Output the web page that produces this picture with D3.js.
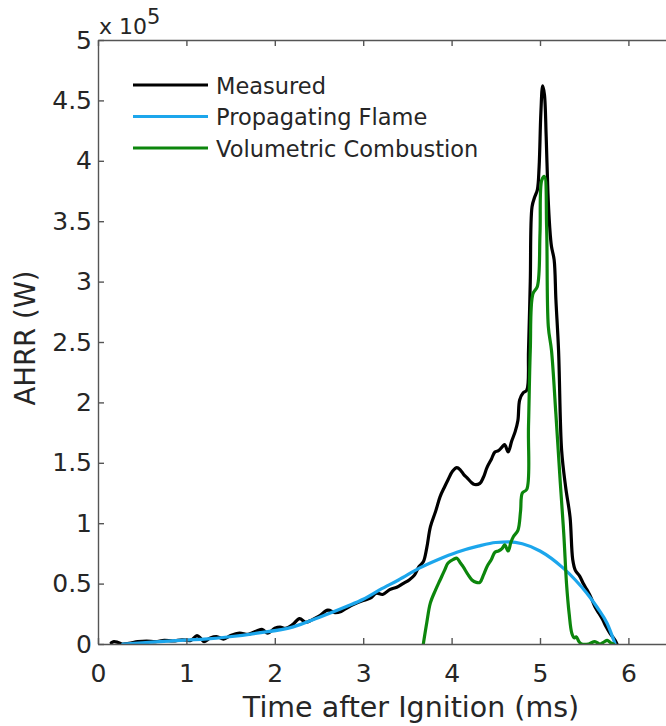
<!DOCTYPE html>
<html>
<head>
<meta charset="utf-8">
<script src="https://cdn.jsdelivr.net/npm/d3@7"></script>
<style>
  html, body { margin: 0; padding: 0; background: #fff; }
  svg { display: block; font-family: "DejaVu Sans", Verdana, sans-serif; }
</style>
</head>
<body>
<svg id="chart" width="666" height="726"></svg>
<script>
// Values in units of 10^5 W, time in ms
const measuredT = [0.15,0.18,0.22,0.27,0.35,0.45,0.55,0.65,0.75,0.85,0.95,1.05,1.12,1.17,1.20,1.27,1.35,1.42,1.50,1.60,1.70,1.80,1.86,1.92,2.00,2.06,2.12,2.20,2.28,2.35,2.42,2.50,2.60,2.68,2.75,2.82,2.90,3.00,3.08,3.15,3.22,3.30,3.38,3.45,3.52,3.58,3.63,3.68,3.72,3.76,3.82,3.87,3.92,3.96,4.01,4.06,4.10,4.14,4.17,4.22,4.26,4.32,4.36,4.40,4.45,4.49,4.53,4.57,4.60,4.64,4.68,4.72,4.75,4.77,4.81,4.85,4.87,4.89,4.91,4.94,4.97,4.99,5.01,5.03,5.05,5.07,5.09,5.11,5.13,5.16,5.18,5.21,5.245,5.29,5.34,5.37,5.40,5.45,5.49,5.53,5.58,5.62,5.67,5.71,5.75,5.79,5.83,5.85,5.87];
const measuredV = [0.01,0.02,0.015,0.0,0.005,0.02,0.025,0.02,0.03,0.025,0.035,0.03,0.07,0.04,0.02,0.05,0.06,0.04,0.07,0.09,0.08,0.11,0.12,0.09,0.13,0.14,0.13,0.16,0.21,0.18,0.20,0.23,0.28,0.26,0.27,0.30,0.33,0.36,0.38,0.42,0.41,0.45,0.47,0.50,0.53,0.57,0.64,0.68,0.80,0.97,1.10,1.22,1.30,1.36,1.43,1.46,1.44,1.40,1.38,1.34,1.32,1.33,1.38,1.46,1.53,1.59,1.60,1.63,1.65,1.59,1.68,1.76,1.85,2.02,2.08,2.10,2.43,3.00,3.62,3.70,3.76,3.95,4.40,4.62,4.55,4.20,3.73,3.45,3.29,3.18,2.85,2.43,1.60,1.30,1.05,0.70,0.61,0.56,0.50,0.45,0.38,0.31,0.25,0.20,0.14,0.09,0.05,0.03,0.0];

const flameT = [0.28,0.50,0.93,1.20,1.49,1.80,2.20,2.50,2.81,3.00,3.19,3.40,3.64,3.85,4.06,4.30,4.50,4.65,4.80,5.00,5.26,5.40,5.53,5.65,5.76,5.85];
const flameV = [0.0,0.01,0.03,0.04,0.06,0.09,0.14,0.22,0.31,0.37,0.45,0.53,0.63,0.70,0.76,0.81,0.84,0.845,0.83,0.77,0.63,0.53,0.42,0.30,0.17,0.0];

const volT = [3.68,3.72,3.76,3.82,3.87,3.92,3.96,4.02,4.06,4.10,4.13,4.18,4.23,4.28,4.32,4.36,4.40,4.45,4.49,4.53,4.57,4.60,4.64,4.67,4.70,4.75,4.78,4.80,4.85,4.87,4.89,4.92,4.97,5.00,5.02,5.05,5.075,5.094,5.13,5.18,5.23,5.27,5.30,5.33,5.36,5.39,5.41,5.44,5.47,5.55,5.62,5.68,5.73,5.76,5.80,5.83];
const volV = [0.0,0.18,0.34,0.45,0.53,0.61,0.67,0.70,0.71,0.67,0.64,0.58,0.53,0.51,0.51,0.57,0.64,0.70,0.76,0.77,0.79,0.82,0.77,0.84,0.89,0.94,1.10,1.25,1.28,1.80,2.43,2.90,2.96,3.40,3.84,3.87,3.45,2.63,2.43,1.90,1.33,0.90,0.50,0.25,0.09,0.05,0.06,0.02,0.0,0.0,0.02,0.0,0.02,0.03,0.01,0.0];

const xTicks = [0,1,2,3,4,5,6];
const yTicks = [0,0.5,1,1.5,2,2.5,3,3.5,4,4.5,5];
const seriesNames = ["Measured","Propagating Flame","Volumetric Combustion"];
const seriesColors = ["#000000","#1ca6ec","#0c860c"];

const svg = d3.select("#chart");
const x = d3.scaleLinear().domain([0,7]).range([98, 98 + 7*88.4]);
const y = d3.scaleLinear().domain([0,5]).range([644, 40]);
const axisColor = "#555";
const textColor = "#262626";

// clip
svg.append("defs").append("clipPath").attr("id","clip")
  .append("rect").attr("x",x(0)).attr("y",y(5)).attr("width",x(7)-x(0)).attr("height",y(0)-y(5));

// lines
const smooth = d3.line().x(d => x(d[0])).y(d => y(d[1])).curve(d3.curveMonotoneX);
const cr = d3.line().x(d => x(d[0])).y(d => y(d[1])).curve(d3.curveCatmullRom.alpha(0.5));
const g = svg.append("g").attr("clip-path","url(#clip)");
const series = [
  {data: d3.zip(measuredT, measuredV), gen: cr, color: seriesColors[0]},
  {data: d3.zip(flameT, flameV), gen: smooth, color: seriesColors[1]},
  {data: d3.zip(volT, volV), gen: cr, color: seriesColors[2]}
];
series.forEach(s => {
  g.append("path").attr("d", s.gen(s.data)).attr("fill","none")
    .attr("stroke", s.color).attr("stroke-width", 3.2).attr("stroke-linejoin","round").attr("stroke-linecap","round");
});

// axes
const xAxisB = d3.axisBottom(x).tickValues(xTicks).tickSizeInner(-6).tickSizeOuter(0).tickPadding(20).tickFormat(d3.format("d"));
const xAxisT = d3.axisTop(x).tickValues(xTicks).tickSizeInner(-6).tickSizeOuter(0).tickFormat("");
const yAxisL = d3.axisLeft(y).tickValues(yTicks).tickSizeInner(-6).tickSizeOuter(0).tickPadding(6).tickFormat(d => String(d));

function style(sel){
  sel.selectAll("path.domain").attr("stroke", axisColor).attr("stroke-width",1.4);
  sel.selectAll(".tick line").attr("stroke", axisColor).attr("stroke-width",1.4);
  sel.selectAll("text").attr("fill", textColor).style("font-family","'DejaVu Sans', Verdana, sans-serif").style("font-size","25px");
}
svg.append("g").attr("transform",`translate(0,${y(0)})`).call(xAxisB).call(style);
svg.append("g").attr("transform",`translate(0,${y(5)})`).call(xAxisT).call(style);
svg.append("g").attr("transform",`translate(${x(0)},0)`).call(yAxisL).call(style);

// axis labels
svg.append("text").attr("x", 411).attr("y", 717).attr("text-anchor","middle")
  .attr("fill", textColor).style("font-size","28.5px").text("Time after Ignition (ms)");
svg.append("text").attr("transform",`translate(35,338) rotate(-90)`).attr("text-anchor","middle")
  .attr("fill", textColor).style("font-size","27.5px").text("AHRR (W)");

// exponent
const ex = svg.append("text").attr("x",99).attr("y",34).attr("fill",textColor).style("font-size","22px");
ex.append("tspan").text("x 10");
ex.append("tspan").attr("dy",-10).style("font-size","21px").text("5");

// legend
const lg = svg.append("g");
seriesNames.forEach((n,i) => {
  const ly = 85 + i*31.5;
  lg.append("line").attr("x1",133).attr("x2",208).attr("y1",ly).attr("y2",ly)
    .attr("stroke", seriesColors[i]).attr("stroke-width",3.2);
  lg.append("text").attr("x",216).attr("y",ly+8.5).attr("fill",textColor)
    .style("font-size","22.5px").text(n);
});
</script>
</body>
</html>
